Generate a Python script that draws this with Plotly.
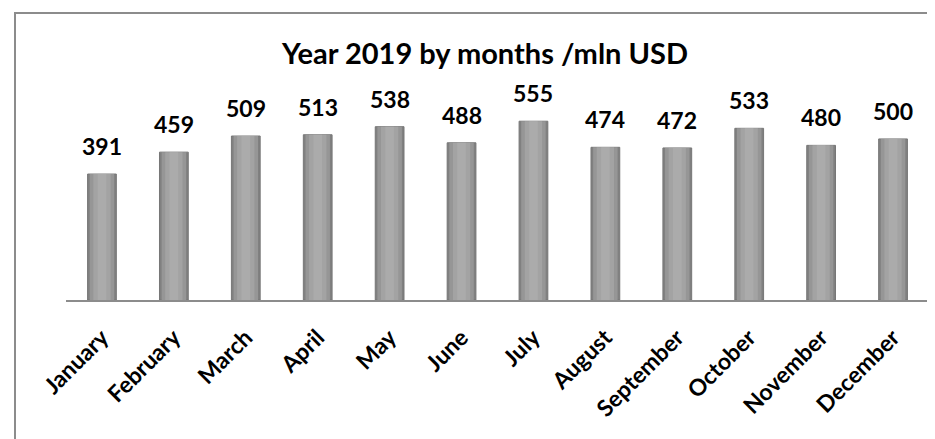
import plotly.graph_objects as go

months = ["January", "February", "March", "April", "May", "June", "July",
          "August", "September", "October", "November", "December"]
values = [391, 459, 509, 513, 538, 488, 555, 474, 472, 533, 480, 500]
title_text = "Year 2019 by months /mln USD"

OFF = 8  # page body margin
W, H = 935 - OFF, 439 - OFF
ml, mr, mt, mb = 66 - OFF, 6, 60 - OFF, 439 - 300
pw, ph = W - ml - mr, H - mt - mb

fig = go.Figure()
layers = [(0.40, "#808080", "#777777"), (0.34, "#969696", "#969696"),
          (0.24, "#a3a3a3", "#a3a3a3"), (0.12, "#ababab", "#ababab")]
for w, c, lc in layers:
    fig.add_trace(go.Bar(x=months, y=values, width=w, marker_color=c,
                         marker_line_color=lc, marker_line_width=1 if w == 0.40 else 0,
                         hoverinfo="skip", showlegend=False))

for m, v in zip(months, values):
    fig.add_annotation(x=m, y=v, text=f"<b>{v}</b>", showarrow=False,
                       yanchor="bottom", yshift=12,
                       font=dict(family="Lato", size=23, color="#000000"))

# frame
fig.add_shape(type="rect", xref="paper", yref="paper",
              x0=(15 - OFF - ml) / pw, x1=(W + 20 - ml) / pw,
              y0=-(mb + 20) / ph, y1=(H - mb - (13 - OFF)) / ph,
              line=dict(color="#8c8c8c", width=2), layer="below")

fig.update_layout(
    width=W, height=H,
    margin=dict(l=ml, r=mr, t=mt, b=mb, autoexpand=False),
    barmode="overlay",
    plot_bgcolor="white", paper_bgcolor="white",
    title=dict(text=f"<b>{title_text}</b>", x=(485 - OFF) / W, xanchor="center",
               y=1 - (54 - OFF) / H, yanchor="middle",
               font=dict(family="Lato", size=29, color="#000000")),
    xaxis=dict(tickangle=-45, showline=True, linecolor="#8c8c8c", linewidth=2,
               ticks="", tickfont=dict(family="Lato", size=23, color="#000000"),
               ticklabelstandoff=13,
               showgrid=False, automargin=False),
    yaxis=dict(range=[0, 745], visible=False, showgrid=False),
)
fig.update_xaxes(tickprefix="<b>", ticksuffix="</b>")
fig.write_html("out.html")
